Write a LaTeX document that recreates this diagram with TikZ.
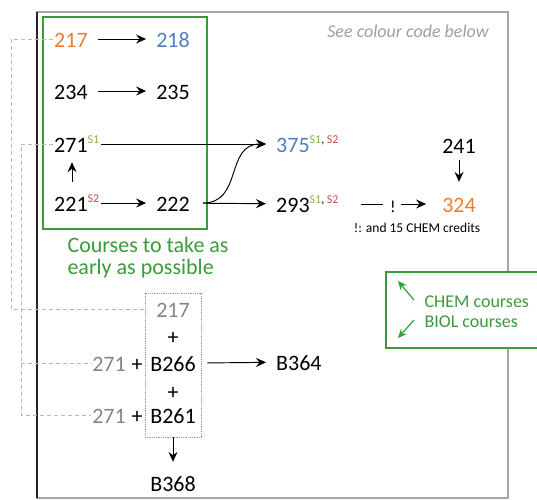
\documentclass[tikz,border=0pt]{standalone}
\usepackage{fontspec}
\setmainfont{Carlito}
\usetikzlibrary{arrows.meta}
\definecolor{corange}{HTML}{ED7D31}
\definecolor{cblue}{HTML}{4F7EC1}
\definecolor{cgreen}{HTML}{3A9B3A}
\definecolor{sgreen}{HTML}{8DB04A}
\definecolor{sred}{HTML}{C0504D}
\definecolor{cgray}{HTML}{858585}
\newcommand{\mysup}[1]{\raisebox{8.5pt}{\fontsize{12}{13}\selectfont #1}}
\newcommand{\supone}{\mysup{\color{sgreen}S1}}
\newcommand{\suptwo}{\mysup{\color{sred}S2}}
\newcommand{\supboth}{\mysup{\color{sgreen}S1\color{black}, \color{sred}S2}}
\tikzset{
  num/.style={font=\fontsize{22}{24}\selectfont, inner sep=1pt, text height=16pt, text depth=0pt},
  arr/.style={-{Stealth[length=10pt,width=9pt,inset=3.5pt]}, line width=0.95pt, shorten >=9pt},
  garr/.style={-{Stealth[length=9pt,width=8pt,inset=3pt]}, line width=1.2pt, draw=cgreen},
  dashline/.style={draw=gray!55, dash pattern=on 4pt off 3pt, line width=0.8pt},
}
\begin{document}
\begin{tikzpicture}[x=1pt,y=-1pt]
\useasboundingbox (0,0) rectangle (537,499);
\clip (0,0) rectangle (537,499);
% outer frame
\draw[gray!70, line width=1.3pt] (37,12) rectangle (508,498);
\draw[black!85, line width=1.3pt] (37,12) -- (37,498);
% green box
\draw[cgreen, line width=1.5pt] (43,17) rectangle (207,229);
% header note
\node[font=\fontsize{18}{20}\selectfont\itshape, text=gray!75, anchor=base] (note) at (408,37) {See colour code below};
% top group
\node[num, anchor=base west, text=corange] (a217) at (53,47) {217};
\node[num, anchor=base, text=cblue] (a218) at (173,47) {218};
\node[num, anchor=base west] (a234) at (53,99) {234};
\node[num, anchor=base] (a235) at (173,99) {235};
\node[num, anchor=base west] (a271) at (53,152) {271\supone};
\node[num, anchor=base west] (a221) at (53,211) {221\suptwo};
\node[num, anchor=base] (a222) at (173,211) {222};
\node[num, anchor=base west, text=cblue] (a375) at (275,152) {375\supboth};
\node[num, anchor=base west] (a293) at (275,212) {293\supboth};
\node[num, anchor=base] (a241) at (459,153) {241};
\node[num, anchor=base, text=corange] (a324) at (459,212) {324};
\node[num, anchor=base, font=\fontsize{17}{20}\selectfont] (excl) at (393,212) {!};
\node[font=\fontsize{13.5}{15}\selectfont, anchor=base] (cred) at (417,232) {!: and 15 CHEM credits};
\node[font=\fontsize{22}{22}\selectfont, text=cgreen, align=left, anchor=base west] (early) at (64,274) {Courses to take as\\early as possible};
\coordinate (xa) at (72,0);
\draw[arr, shorten <=9pt] (a217) -- (a218);
\draw[arr, shorten <=9pt] (a234) -- (a235);
\draw[arr, shorten <=1pt] (a271) -- (a375);
\draw[arr, shorten <=1pt] (a221) -- (a222);
\draw[arr, shorten <=12pt] (a222) -- (a293);
\draw[arr, shorten <=12pt] (a222.east) .. controls +(52,0) and +(-50,0) .. (a375.west);
\draw[arr, shorten <=12pt, shorten >=9pt] (a221.north -| xa) -- (a271.south -| xa);
\draw[arr, shorten <=6pt, shorten >=13pt] (a241) -- (a324);
\draw[line width=1pt, shorten <=21pt, shorten >=6pt] (a293) -- (excl);
\draw[arr, shorten <=4pt, shorten >=15pt] (excl) -- (a324);
% lower group
\node[draw=gray!80, densely dotted, line width=0.8pt, minimum width=56pt, minimum height=144pt, inner sep=0pt] (dbox) at (173,365) {};
\node[num, anchor=base, text=cgray] (b217) at (173,317) {217};
\node[num, anchor=base] (p1) at (173,344) {+};
\node[num, anchor=base] (b266) at (173,371) {B266};
\node[num, anchor=base] (p2) at (173,399) {+};
\node[num, anchor=base] (b261) at (173,423) {B261};
\node[num, anchor=base] (b368) at (173,491) {B368};
\node[num, anchor=base west] (b364) at (275,370) {B364};
\node[num, anchor=base, text=cgray] (g271a) at (109,371) {271};
\node[num, anchor=base] (pa) at (137,371) {+};
\node[num, anchor=base, text=cgray] (g271b) at (109,423) {271};
\node[num, anchor=base] (pb) at (137,423) {+};
\draw[arr, shorten <=6pt] (dbox.east |- b266) -- (b364);
\draw[arr, shorten >=12pt] (dbox.south) -- (b368.north);
% dashed links
\coordinate (dv) at (21,0);
\draw[dashline] (a217.west) -- ++(-42,0) |- (dbox.west |- b217);
\draw[dashline] (a271.west) -| (dv |- g271b) -- (g271b.west);
\draw[dashline] (dv |- g271a) -- (g271a.west);
% legend
\draw[cgreen, line width=1.4pt, fill=white] (386,272) rectangle (545,348);
\node[font=\fontsize{18}{20}\selectfont, text=cgreen, anchor=base west] (chem) at (421,307) {CHEM courses};
\node[font=\fontsize{18}{20}\selectfont, text=cgreen, anchor=base west] (biol) at (421,327) {BIOL courses};
\coordinate (c1s) at (414,300);
\coordinate (c1e) at (398,281);
\coordinate (c2s) at (414,320);
\coordinate (c2e) at (398,338);
\draw[garr] (c1s) -- (c1e);
\draw[garr] (c2s) -- (c2e);
\end{tikzpicture}
\end{document}
